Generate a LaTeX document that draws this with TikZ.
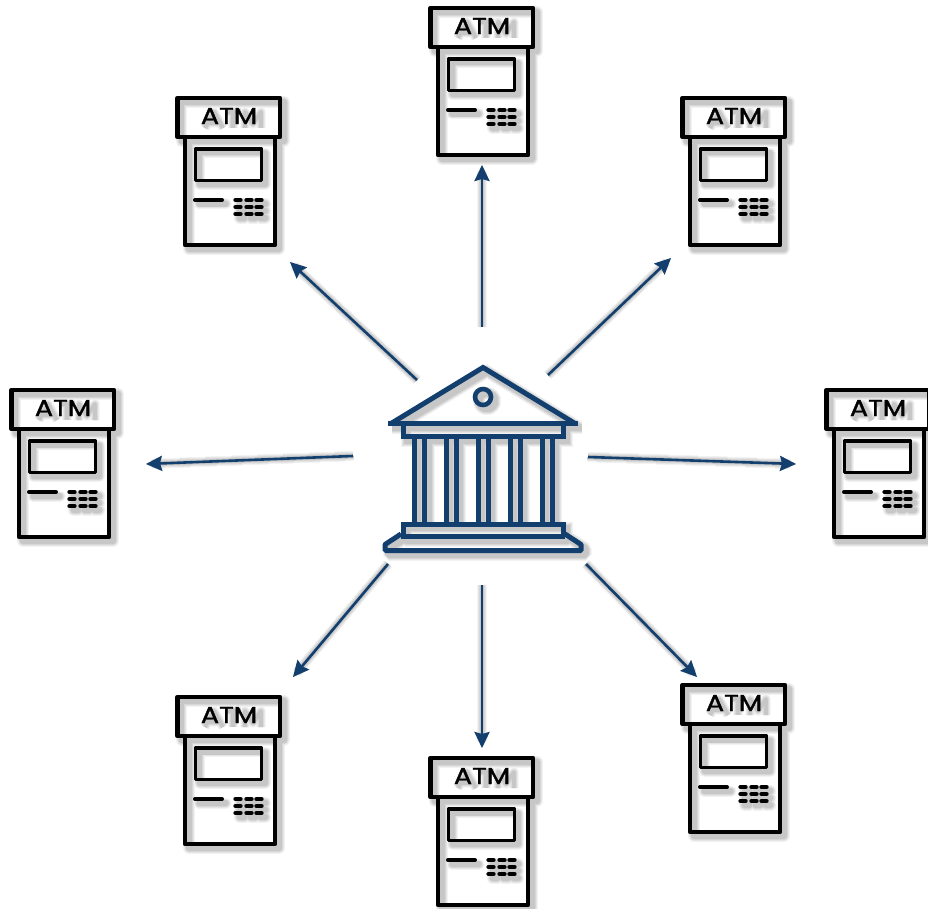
\documentclass[tikz,border=0pt]{standalone}
\usepackage{fontspec}
\newfontfamily\atmfont{Poppins}[FakeStretch=1.18,FakeBold=1.6]
\usetikzlibrary{arrows.meta}
\definecolor{navy}{HTML}{123F6D}
\newcommand\atmbody[2]{%
  \begin{scope}[draw=#1,line width=4.4pt+#2pt,line join=round]
    \draw (-44,39) -- (-44,147) -- (46,147) -- (46,39);
    \draw[line width=3.8pt+#2pt] (-33.5,51) rectangle (32.5,82.5);
    \draw[line cap=round,line width=4pt+#2pt] (-34,102) -- (-7,102);
    \foreach \ky in {102,109,116}
      \foreach \kx in {9,20,30}
        \draw[line cap=round] (\kx-2.5,\ky) -- (\kx+2.5,\ky);
    \draw (-51.5,0) rectangle (51,39);
  \end{scope}}
\newcommand\atmglyphs[2]{%
  \begin{scope}[draw=#1,line width=2.4pt+#2pt,line join=round]
    \draw (-28,26) -- (-19,10) -- (-10,26) (-24,21) -- (-14,21);
    \draw (-8,10) -- (8,10) (0,10) -- (0,26);
    \draw (12,26) -- (12,10) -- (20,22) -- (28,10) -- (28,26);
  \end{scope}}
\newcommand\bankbody[2]{%
  \begin{scope}[draw=#1,line width=5pt+#2pt,line join=miter]
    \draw (391,423.5) -- (483,367.5) -- (575,423.5);
    \draw (388,423.5) -- (578,423.5);
    \draw[line width=4.6pt+#2pt] (483,397) circle (8);
    \draw (403,423) |- (563,436.5) -- (563,423);
    \foreach \cxa in {414,424.5,446,456,478,488,510,520,542,552}
      \draw (\cxa,437) -- (\cxa,524);
    \draw (403,536) |- (563,524) -- (563,536);
    \draw (401,536.5) -- (565,536.5);
    \draw[line join=bevel] (401,534) -- (385,544.5) -- (385,550.5) -- (581,550.5) -- (581,544.5) -- (565,534);
  \end{scope}}
\tikzset{
  x=1pt,y=-1pt,
  atmlabel/.style={inner sep=0pt,font=\atmfont\fontsize{23}{25}\selectfont},
  flowtip/.style={-{Stealth[length=16pt,width=15pt,inset=2pt]}},
  flow/.style={draw=navy,line width=2.6pt,flowtip},
  bankspot/.style={inner sep=0pt,minimum width=198pt,minimum height=188pt}
}
\begin{document}
\begin{tikzpicture}
\useasboundingbox (0,0) rectangle (928,909);
% named ends of the connectors
\coordinate (s1) at (482,327); \coordinate (e1) at (482,165);
\coordinate (s2) at (417,380); \coordinate (e2) at (290,262);
\coordinate (s3) at (548,375); \coordinate (e3) at (671,258);
\coordinate (s4) at (353,456); \coordinate (e4) at (146,464);
\coordinate (s5) at (588,457); \coordinate (e5) at (796,464);
\coordinate (s6) at (388,564); \coordinate (e6) at (293,677);
\coordinate (s7) at (482,585); \coordinate (e7) at (482,748);
\coordinate (s8) at (586,564); \coordinate (e8) at (697,677);
% soft shadows, light to dark
\begin{scope}[shift={(4,4)}]
  \foreach \wdt/\lev in {7/95,5/90,3/84,1.2/78}{
    \foreach \ax/\ay in {482/8,229/98,734/98,63/390,878/390,229/697,482/758,734/685}
      \begin{scope}[shift={(\ax,\ay)}]
        \atmbody{white!\lev!black}{\wdt}
        \atmglyphs{white!\lev!black}{\wdt}
      \end{scope}
    \bankbody{white!\lev!black}{\wdt}
    \foreach \n in {1,...,8}
      \draw[draw=white!\lev!black,line width=2.4pt+\wdt pt,shorten >=6pt] (s\n) -- (e\n);
  }
  \foreach \n in {1,...,8}
    \draw[draw=black!22,line width=1pt,flowtip] (s\n) -- (e\n);
\end{scope}
% ATMs
\foreach \ax/\ay/\nm in {482/8/atmA,229/98/atmB,734/98/atmC,63/390/atmD,878/390/atmE,229/697/atmF,482/758/atmG,734/685/atmH}{
  \begin{scope}[shift={(\ax,\ay)}]
    \atmbody{black}{0}
  \end{scope}
  \node[atmlabel] (\nm) at (\ax,\ay+18) {ATM};
}
% bank
\bankbody{navy}{0}
\node[bankspot] (bank) at (483,458) {};
% connectors
\foreach \n in {1,...,8}
  \draw[flow] (s\n) -- (e\n);
\end{tikzpicture}
\end{document}
